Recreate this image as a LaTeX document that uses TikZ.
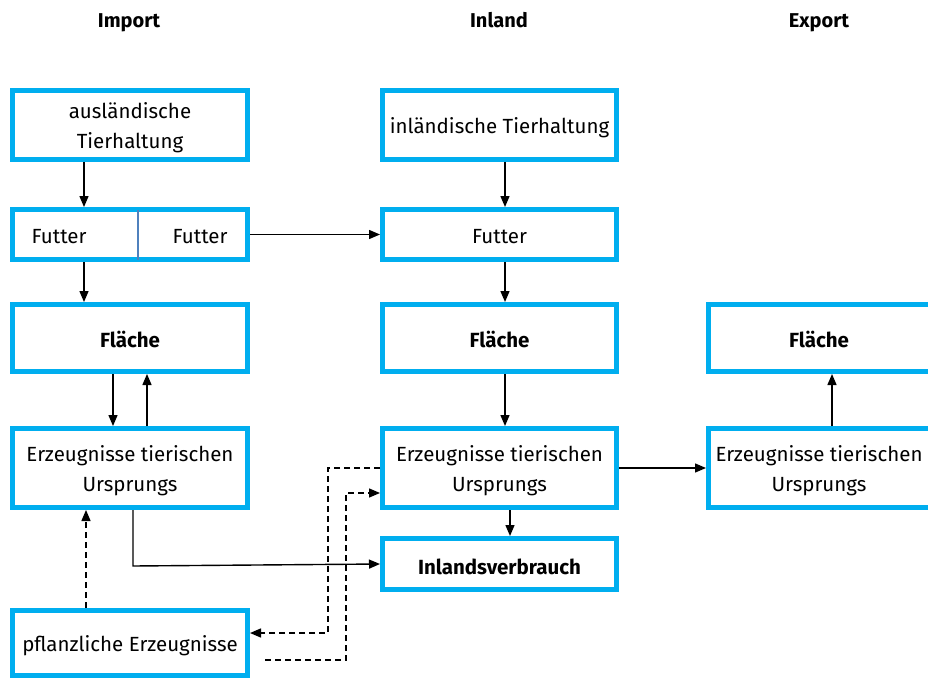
\documentclass[tikz,border=0pt]{standalone}
\usepackage{fontspec}
\setmainfont{Fira Sans}
\usetikzlibrary{arrows.meta}
\definecolor{boxblue}{HTML}{00AEEF}
\definecolor{divblue}{HTML}{4F81BD}
\begin{document}
\begin{tikzpicture}[x=1pt,y=-1pt,
  box/.style={draw=boxblue,line width=5pt,fill=white,inner sep=0pt},
  txt/.style={font=\fontsize{20.5}{30}\selectfont,align=center,inner sep=0pt},
  hdr/.style={font=\fontsize{20}{24}\selectfont\bfseries,anchor=base,inner sep=0pt},
  arr/.style={line width=1.4pt,-{Triangle[length=11pt,width=9pt]}},
  darr/.style={line width=1.4pt,dash pattern=on 6pt off 4pt,-{Triangle[length=11pt,width=9pt]}}]
\useasboundingbox (0,0) rectangle (928,679);
% headers
\node[hdr] (hImp) at (129,28) {Import};
\node[hdr] (hInl) at (499,28) {Inland};
\node[hdr] (hExp) at (819,28) {Export};
% import column
\node[box,minimum width=235,minimum height=69] (impT) at (130,125) {};
\node[txt] (impTt) at (130,128) {ausländische\\Tierhaltung};
\node[box,minimum width=235,minimum height=50] (impF) at (130,234.5) {};
\node[txt] (impF1) at (59,237) {Futter};
\node[txt] (impF2) at (200,237) {Futter};
\coordinate (dvT) at (138,209.5);
\coordinate (dvB) at (138,259.5);
\draw[divblue,line width=2.2pt] (dvT) -- (dvB);
\node[box,minimum width=235,minimum height=67] (impFl) at (130,338) {};
\node[txt] (impFlt) at (130,339) {\bfseries Fläche};
\node[box,minimum width=235,minimum height=79] (impE) at (130,468) {};
\node[txt] (impEt) at (130,471) {Erzeugnisse tierischen\\Ursprungs};
\node[box,minimum width=235,minimum height=65] (impP) at (130,643) {};
\node[txt] (impPt) at (130,646) {pflanzliche Erzeugnisse};
% inland column
\node[box,minimum width=234,minimum height=69] (inlT) at (499.5,125) {};
\node[txt] (inlTt) at (499.5,128) {inländische Tierhaltung};
\node[box,minimum width=234,minimum height=50] (inlF) at (499.5,234.5) {};
\node[txt] (inlFt) at (499.5,237) {Futter};
\node[box,minimum width=234,minimum height=67] (inlFl) at (499.5,338) {};
\node[txt] (inlFlt) at (499.5,339) {\bfseries Fläche};
\node[box,minimum width=234,minimum height=79] (inlE) at (499.5,468) {};
\node[txt] (inlEt) at (499.5,471) {Erzeugnisse tierischen\\Ursprungs};
\node[box,minimum width=234,minimum height=51] (inlV) at (499.5,564) {};
\node[txt] (inlVt) at (499.5,566.5) {\bfseries Inlandsverbrauch};
% export column
\node[box,minimum width=225,minimum height=67] (expFl) at (821,338) {};
\node[txt] (expFlt) at (819,339) {\bfseries Fläche};
\node[box,minimum width=225,minimum height=79] (expE) at (821,468) {};
\node[txt] (expEt) at (819,471) {Erzeugnisse tierischen\\Ursprungs};
% arrows import
\draw[arr] (impT.south -| 84,0) -- (impF.north -| 84,0);
\draw[arr] (impF.south -| 84,0) -- (impFl.north -| 84,0);
\draw[arr] (impFl.south -| 113,0) -- (impE.north -| 113,0);
\draw[arr] (impE.north -| 147,0) -- (impFl.south -| 147,0);
\draw[arr] (impF.east) -- (inlF.west);
\coordinate (c1) at (133,566);
\draw[arr] (impE.south -| 133,0) -- (c1) -- (inlV.west);
\draw[darr] (impP.north -| 86,0) -- (impE.south -| 86,0);
% arrows inland
\draw[arr] (inlT.south -| 505,0) -- (inlF.north -| 505,0);
\draw[arr] (inlF.south -| 505,0) -- (inlFl.north -| 505,0);
\draw[arr] (inlFl.south -| 505,0) -- (inlE.north -| 505,0);
\draw[arr] (inlE.south -| 510,0) -- (inlV.north -| 510,0);
\draw[arr] (inlE.east) -- (expE.west);
\draw[arr] (expE.north -| 832,0) -- (expFl.south -| 832,0);
% dashed connections
\coordinate (d1a) at (380,468);
\coordinate (d1b) at (328,468);
\coordinate (d1c) at (328,633);
\draw[darr] (d1a) -- (d1b) -- (d1c) -- (impP.east |- d1c);
\coordinate (d2a) at (265,660);
\coordinate (d2b) at (346,660);
\coordinate (d2c) at (346,493);
\draw[darr] (d2a) -- (d2b) -- (d2c) -- (inlE.west |- d2c);
\end{tikzpicture}
\end{document}
